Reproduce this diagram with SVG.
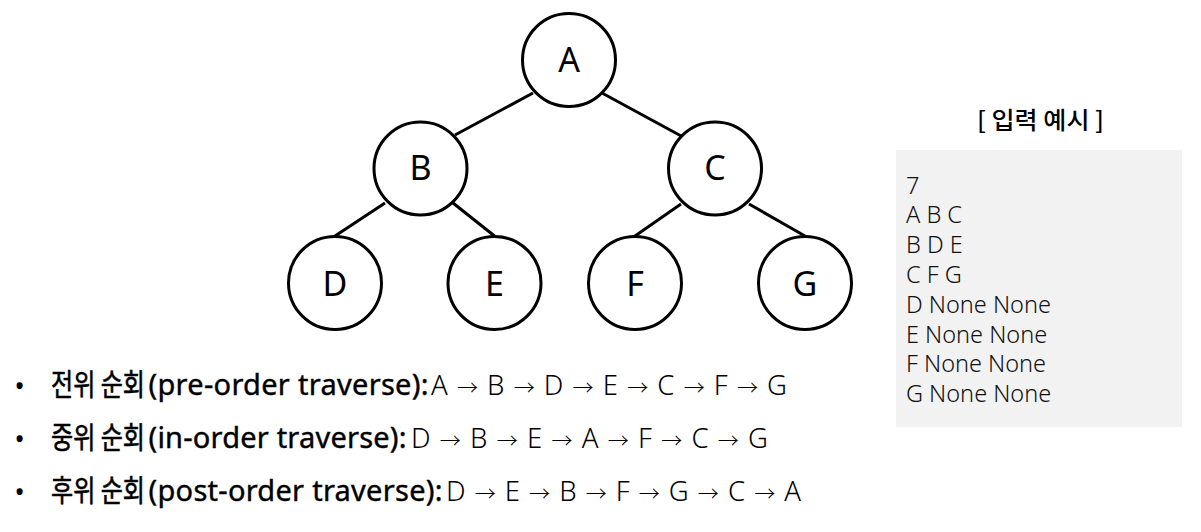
<svg xmlns="http://www.w3.org/2000/svg" width="1201" height="532" viewBox="0 0 1201 532">
  <style>
    .edge { stroke: #000; stroke-width: 3; fill: none; }
    .node circle { fill: #fff; stroke: #000; stroke-width: 3; }
    .node text { font-family: "Noto Sans", "Liberation Sans", sans-serif; font-size: 34px; fill: #000; text-anchor: middle; }
    .ko { font-family: "Noto Sans CJK KR", sans-serif; font-weight: 400; font-size: 30px; fill: #000; stroke: #000; stroke-width: 0.6px; }
    .lab { font-family: "Noto Sans", "Noto Sans CJK KR", sans-serif; font-weight: 400; font-size: 29px; fill: #000; stroke: #000; stroke-width: 0.4px; }
    .seq { font-family: "Noto Sans", "Noto Sans CJK KR", sans-serif; font-weight: 300; font-size: 27.5px; fill: #000; }
    .arr { font-family: "Noto Sans CJK KR", sans-serif; font-size: 21px; }
    .bullet { font-family: "Noto Sans", sans-serif; font-size: 27px; fill: #000; text-anchor: middle; }
    .title { font-family: "Noto Sans CJK KR", sans-serif; font-weight: 500; font-size: 24px; fill: #000; }
    .input { font-family: "Noto Sans", "Liberation Sans", sans-serif; font-weight: 300; font-size: 23.5px; fill: #111; }
  </style>

  <!-- tree edges -->
  <g id="edges">
    <line class="edge" x1="533" y1="93" x2="455" y2="135"/>
    <line class="edge" x1="602" y1="93" x2="683" y2="137"/>
    <line class="edge" x1="385" y1="203" x2="335" y2="236"/>
    <line class="edge" x1="453" y1="203" x2="494.5" y2="236"/>
    <line class="edge" x1="681" y1="204" x2="635" y2="236"/>
    <line class="edge" x1="749" y1="204" x2="805" y2="236"/>
  </g>

  <!-- tree nodes -->
  <g id="node-A" class="node"><circle cx="569" cy="60" r="46.5"/><text x="569" y="72">A</text></g>
  <g id="node-B" class="node"><circle cx="420.5" cy="168.5" r="46.5"/><text x="420.5" y="180">B</text></g>
  <g id="node-C" class="node"><circle cx="715" cy="168.5" r="46.5"/><text x="715" y="180">C</text></g>
  <g id="node-D" class="node"><circle cx="335" cy="283" r="46.5"/><text x="335" y="296">D</text></g>
  <g id="node-E" class="node"><circle cx="494.5" cy="283" r="46.5"/><text x="494.5" y="296">E</text></g>
  <g id="node-F" class="node"><circle cx="635" cy="283" r="46.5"/><text x="635" y="296">F</text></g>
  <g id="node-G" class="node"><circle cx="805" cy="283" r="46.5"/><text x="805" y="296">G</text></g>

  <!-- traversal orders -->
  <g id="traversals">
    <text class="bullet" x="19.5" y="396">•</text>
    <text class="ko" x="51" y="395" textLength="94" lengthAdjust="spacingAndGlyphs">전위 순회</text>
    <text class="lab" x="148.5" y="395" textLength="280" lengthAdjust="spacing">(pre-order traverse):</text>
    <text class="seq" x="431" y="395" textLength="356" lengthAdjust="spacing">A <tspan class="arr">→</tspan> B <tspan class="arr">→</tspan> D <tspan class="arr">→</tspan> E <tspan class="arr">→</tspan> C <tspan class="arr">→</tspan> F <tspan class="arr">→</tspan> G</text>

    <text class="bullet" x="19.5" y="449">•</text>
    <text class="ko" x="51" y="448" textLength="94" lengthAdjust="spacingAndGlyphs">중위 순회</text>
    <text class="lab" x="148.5" y="448" textLength="258" lengthAdjust="spacing">(in-order traverse):</text>
    <text class="seq" x="411" y="448" textLength="357" lengthAdjust="spacing">D <tspan class="arr">→</tspan> B <tspan class="arr">→</tspan> E <tspan class="arr">→</tspan> A <tspan class="arr">→</tspan> F <tspan class="arr">→</tspan> C <tspan class="arr">→</tspan> G</text>

    <text class="bullet" x="19.5" y="502">•</text>
    <text class="ko" x="51" y="501" textLength="94" lengthAdjust="spacingAndGlyphs">후위 순회</text>
    <text class="lab" x="148.5" y="501" textLength="294" lengthAdjust="spacing">(post-order traverse):</text>
    <text class="seq" x="446" y="501" textLength="355" lengthAdjust="spacing">D <tspan class="arr">→</tspan> E <tspan class="arr">→</tspan> B <tspan class="arr">→</tspan> F <tspan class="arr">→</tspan> G <tspan class="arr">→</tspan> C <tspan class="arr">→</tspan> A</text>
  </g>

  <!-- input example panel -->
  <g id="input-example">
    <text class="title" x="977" y="129" textLength="127" lengthAdjust="spacingAndGlyphs">[ 입력 예시 ]</text>
    <rect x="896" y="150" width="286" height="277" fill="#f2f2f2"/>
    <text class="input">
      <tspan x="906" y="193.5">7</tspan>
      <tspan x="906" y="223.3">A B C</tspan>
      <tspan x="906" y="253.1">B D E</tspan>
      <tspan x="906" y="282.9">C F G</tspan>
      <tspan x="906" y="312.7">D None None</tspan>
      <tspan x="906" y="342.5">E None None</tspan>
      <tspan x="906" y="372.3">F None None</tspan>
      <tspan x="906" y="402">G None None</tspan>
    </text>
  </g>
</svg>
